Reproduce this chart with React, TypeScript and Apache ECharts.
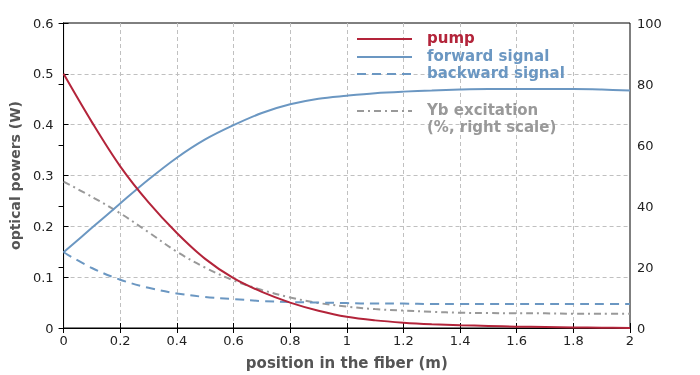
import React, { useEffect, useRef } from "react";
import * as echarts from "echarts";

const positions = [0, 0.1, 0.2, 0.3, 0.4, 0.5, 0.6, 0.7, 0.8, 0.9, 1.0, 1.1, 1.2, 1.3, 1.4, 1.5, 1.6, 1.7, 1.8, 1.9, 2.0];
const pump = [0.5, 0.405, 0.318, 0.247, 0.187, 0.136, 0.098, 0.071, 0.05, 0.034, 0.022, 0.015, 0.0105, 0.0075, 0.0055, 0.004, 0.0027, 0.0019, 0.0012, 0.0006, 0.0];
const forwardSignal = [0.149, 0.197, 0.245, 0.292, 0.335, 0.371, 0.399, 0.423, 0.44, 0.451, 0.457, 0.462, 0.465, 0.467, 0.469, 0.47, 0.47, 0.47, 0.47, 0.469, 0.467];
const backwardSignal = [0.149, 0.118, 0.095, 0.079, 0.068, 0.061, 0.057, 0.053, 0.051, 0.05, 0.049, 0.048, 0.048, 0.047, 0.047, 0.047, 0.047, 0.047, 0.047, 0.047, 0.047];
const ybExcitation = [48.0, 43.0, 37.6, 31.4, 25.0, 19.8, 15.6, 12.5, 10.0, 8.2, 7.0, 6.2, 5.7, 5.3, 5.0, 4.9, 4.8, 4.8, 4.7, 4.7, 4.7];

const legendItems = [
  { lines: ["pump"], color: "#b3243a", dash: "solid" },
  { lines: ["forward signal"], color: "#6b97c2", dash: "solid" },
  { lines: ["backward signal"], color: "#6b97c2", dash: "dashed" },
  { lines: ["Yb excitation", "(%, right scale)"], color: "#999999", dash: "dashdot" },
];

const FONT = "'DejaVu Sans', Verdana, sans-serif";

export default function App() {
  const ref = useRef<HTMLDivElement>(null);
  useEffect(() => {
    if (!ref.current) return;
    const chart = echarts.init(ref.current, null, { renderer: "svg" });
    const pair = (ys: number[]) => positions.map((x, i) => [x, ys[i]]);
    const dashFor = (d: string) => (d === "dashed" ? [9, 6] : d === "dashdot" ? [7, 4, 2, 4] : null);
    const legendY = [39, 57, 74, 111];
    const graphic: any[] = [];
    legendItems.forEach((it, i) => {
      graphic.push({
        type: "line",
        shape: { x1: 357, y1: legendY[i], x2: 412, y2: legendY[i] },
        style: { stroke: it.color, lineWidth: 2, lineDash: dashFor(it.dash) },
        z: 10,
      });
      it.lines.forEach((t, j) => {
        graphic.push({
          type: "text",
          x: 427,
          y: legendY[i] - 9 + j * 17,
          style: { text: t, fill: it.color, font: `bold 15px ${FONT}`, verticalAlign: "top" },
          z: 10,
        });
      });
    });
    const lineCommon = { type: "line", smooth: 0.35, showSymbol: false };
    const gridLine = { show: true, showMinLine: false, showMaxLine: false, lineStyle: { color: "#c0c0c0", type: [4, 3] } };
    chart.setOption({
      animation: false,
      textStyle: { fontFamily: FONT },
      grid: { left: 62, right: 70, top: 23, bottom: 47, show: true, borderColor: "#000", borderWidth: 1 },
      graphic,
      xAxis: [
        {
          type: "value",
          min: 0,
          max: 2,
          interval: 0.2,
          name: "position in the fiber (m)",
          nameLocation: "middle",
          nameGap: 27,
          nameTextStyle: { fontWeight: "bold", fontSize: 15, color: "#555", fontFamily: FONT },
          axisLine: { lineStyle: { color: "#000" } },
          axisTick: { inside: true, length: 5, lineStyle: { color: "#000" } },
          axisLabel: { fontSize: 13, color: "#222", margin: 6, fontFamily: FONT },
          splitLine: gridLine,
        },
        {
          type: "value",
          position: "top",
          min: 0,
          max: 2,
          interval: 0.2,
          axisLine: { show: true, lineStyle: { color: "#000" } },
          axisTick: { show: true, inside: true, length: 5, lineStyle: { color: "#000" } },
          axisLabel: { show: false },
          splitLine: { show: false },
        },
      ],
      yAxis: [
        {
          type: "value",
          min: 0,
          max: 0.6,
          interval: 0.1,
          name: "optical powers (W)",
          nameLocation: "middle",
          nameGap: 37,
          nameTextStyle: { fontWeight: "bold", fontSize: 14, color: "#555", fontFamily: FONT },
          axisLine: { show: true, lineStyle: { color: "#000" } },
          axisTick: { show: true, inside: true, length: 5, lineStyle: { color: "#000" } },
          axisLabel: { fontSize: 13, color: "#222", margin: 10, fontFamily: FONT },
          splitLine: gridLine,
        },
        {
          type: "value",
          min: 0,
          max: 100,
          interval: 20,
          position: "right",
          axisLine: { show: true, lineStyle: { color: "#000" } },
          axisTick: { show: true, inside: true, length: 5, lineStyle: { color: "#000" } },
          axisLabel: { fontSize: 13, color: "#222", margin: 7, fontFamily: FONT },
          splitLine: { show: false },
        },
      ],
      series: [
        {
          ...lineCommon,
          name: "Yb excitation",
          yAxisIndex: 1,
          data: pair(ybExcitation),
          lineStyle: { color: "#999999", width: 2, type: [7, 4, 2, 4] },
        },
        {
          ...lineCommon,
          name: "backward signal",
          data: pair(backwardSignal),
          lineStyle: { color: "#6b97c2", width: 2, type: [9, 6] },
        },
        {
          ...lineCommon,
          name: "forward signal",
          data: pair(forwardSignal),
          lineStyle: { color: "#6b97c2", width: 2 },
        },
        {
          ...lineCommon,
          name: "pump",
          data: pair(pump),
          lineStyle: { color: "#b3243a", width: 2 },
        },
      ],
    });
    return () => chart.dispose();
  }, []);
  return <div ref={ref} style={{ position: "fixed", left: 0, top: 0, width: 700, height: 375 }} />;
}
